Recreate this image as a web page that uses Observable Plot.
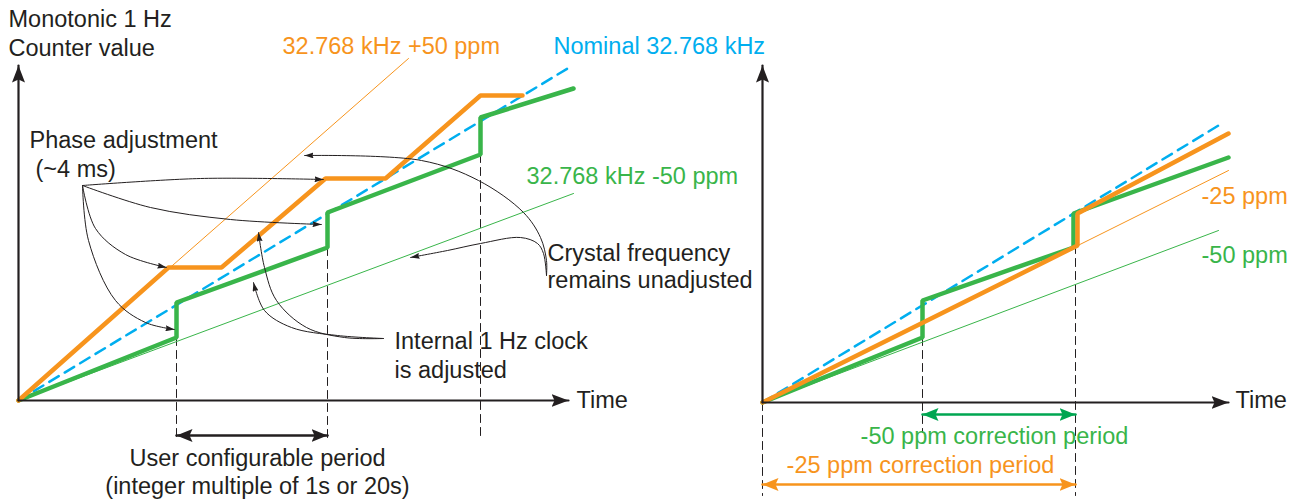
<!DOCTYPE html>
<html><head><meta charset="utf-8">
<script src="https://cdn.jsdelivr.net/npm/d3@7"></script>
<script src="https://cdn.jsdelivr.net/npm/@observablehq/plot@0.6"></script>
<style>html,body{margin:0;padding:0;background:#fff;overflow:hidden}</style>
</head><body><div id="chart"></div>
<script>
// ---------------- data (panel-local units: t = time, c = counter value) ----------------
// Left panel: +50 ppm / -50 ppm crystals, phase-adjusted internal clock
const leftAxisY = [[0, 0], [0, 335]];
const leftAxisX = [[0, 0], [550, 0]];
const leftNominal = [[0, 0], [554, 335]];
const leftPlus50 = [[0, 0], [390, 342]];
const leftMinus50 = [[0, 0], [555, 207]];
const leftPlus50Adjusted = [[0, 0], [150, 133], [203, 133], [307, 222], [367, 222], [462, 305], [504, 305]];
const leftMinus50Adjusted = [[0, 0], [158, 63], [158, 98], [309, 153], [309, 188], [462, 246], [462, 283], [555, 312]];
const leftAdjustTimes = [158, 309, 462];
const leftAdjustTops = [63, 153, 246];
const leftGuideBottom = -40;
const leftPeriod = [[158, -35], [309, -35]];

// annotation leader curves (left panel)
const phaseArrows = [
  [[64, 215], [182, 222], [305, 221]],
  [[64, 215], [132, 193], [212, 181], [303, 176]],
  [[64, 215], [77, 172], [107, 146], [148, 133]],
  [[64, 215], [70, 160], [97, 100], [127, 78], [156, 71]]
];
const internalArrows = [
  [[365, 62], [326, 63], [288, 73], [258, 100], [246, 133], [240, 168]],
  [[365, 62], [319, 65], [273, 73], [246, 90], [235, 118]]
];
const crystalArrows = [
  [[528, 125], [528, 140], [522, 163], [505, 188], [460, 220], [403, 240], [286, 245]],
  [[528, 125], [525, 147], [519, 157], [502, 163], [462, 157], [429, 150], [392, 143]]
];

// Right panel: -25 ppm / -50 ppm corrections
const rightAxisY = [[0, 0], [0, 337]];
const rightAxisX = [[0, 0], [466, 0]];
const rightNominal = [[0, 0], [456, 277]];
const rightMinus25 = [[0, 0], [466, 232]];
const rightMinus50 = [[0, 0], [456, 172]];
const rightMinus25Adjusted = [[0, 0], [315, 157], [315, 189], [466, 269]];
const rightMinus50Adjusted = [[0, 0], [160, 65], [160, 102], [311, 155], [311, 189], [466, 245]];
const rightGuides = [[0, 0, -93], [160, 65, -30], [313, 157, -93]];
const rightPeriod50 = [[160, -12], [313, -12]];
const rightPeriod25 = [[0, -82], [313, -82]];

// texts
const leftTextsStart = [
  {t: -10, c: 374, text: "Monotonic 1 Hz", color: "ink"},
  {t: -10, c: 345, text: "Counter value", color: "ink"},
  {t: 264, c: 347, text: "32.768 kHz +50 ppm", color: "orange"},
  {t: 535, c: 347, text: "Nominal 32.768 kHz", color: "blue"},
  {t: 11, c: 253, text: "Phase adjustment", color: "ink"},
  {t: 17, c: 224, text: "(~4 ms)", color: "ink"},
  {t: 508, c: 217, text: "32.768 kHz -50 ppm", color: "green"},
  {t: 529, c: 140, text: "Crystal frequency", color: "ink"},
  {t: 529, c: 113, text: "remains unadjusted", color: "ink"},
  {t: 376, c: 52, text: "Internal 1 Hz clock", color: "ink"},
  {t: 376, c: 23, text: "is adjusted", color: "ink"},
  {t: 558, c: -7, text: "Time", color: "ink"}
];
const leftTextsMiddle = [
  {t: 239, c: -65, text: "User configurable period", color: "ink"},
  {t: 239, c: -93, text: "(integer multiple of 1s or 20s)", color: "ink"}
];
const rightTextsStart = [
  {t: 473, c: -5, text: "Time", color: "ink"},
  {t: 439, c: 199, text: "-25 ppm", color: "orange"},
  {t: 439, c: 140, text: "-50 ppm", color: "green"}
];
const rightTextsMiddle = [
  {t: 232, c: -41, text: "-50 ppm correction period", color: "green"},
  {t: 158, c: -70, text: "-25 ppm correction period", color: "orange"}
];

// ---------------- layout & style ----------------
const origins = {L: [18, 400], R: [762, 402]};
const colors = {ink: "#231F20", orange: "#F7941D", green: "#39B54A", blue: "#00AEEF", arrowGreen: "#00A651"};

const pts = (p, arr, id) => arr.map(([t, c]) => ({p, t, c, id}));
const multi = (p, arrs, prefix) => arrs.flatMap((a, i) => pts(p, a, prefix + i));
const X = d => origins[d.p][0] + d.t;
const Y = d => origins[d.p][1] - d.c;
const withP = (p, arr) => arr.map(d => ({...d, p}));

function head(len, wid, notch = 0) {
  return (color) => {
    const m = d3.create("svg:marker")
      .attr("viewBox", `${-len} ${-wid / 2} ${len} ${wid}`)
      .attr("markerWidth", len).attr("markerHeight", wid)
      .attr("markerUnits", "userSpaceOnUse")
      .attr("refX", 0).attr("refY", 0)
      .attr("orient", "auto-start-reverse")
      .attr("fill", color).attr("stroke", "none");
    m.append("path").attr("d", `M${-len},${-wid / 2}L0,0L${-len},${wid / 2}L${-len + notch},0Z`);
    return m.node();
  };
}
const axisHead = head(17, 13, 3);
const periodHead = head(16, 13, 3);
const smallHead = head(9, 6, 1);

const guideLeft = leftAdjustTimes.flatMap((t, i) => [
  {p: "L", t, c: leftAdjustTops[i], id: "g" + i},
  {p: "L", t, c: leftGuideBottom, id: "g" + i}
]);
const guideRight = rightGuides.flatMap(([t, top, bot], i) => [
  {p: "R", t, c: top, id: "r" + i},
  {p: "R", t, c: bot, id: "r" + i}
]);

const textMark = (data, anchor) => Plot.text(data, {
  x: X, y: Y, text: "text", fill: d => colors[d.color],
  textAnchor: anchor, lineAnchor: "bottom", fontSize: 23.5
});

const chart = Plot.plot({
  width: 1300, height: 502, margin: 0,
  x: {domain: [0, 1300], range: [0, 1300], axis: null},
  y: {domain: [0, 502], range: [0, 502], axis: null},
  style: {fontFamily: "'Liberation Sans', Arial, sans-serif", background: "#fff", overflow: "visible"},
  marks: [
    // vertical guides
    Plot.line([...guideLeft, ...guideRight], {x: X, y: Y, z: "id", stroke: colors.ink, strokeWidth: 1, strokeDasharray: "8,5"}),
    // unadjusted crystal lines (thin)
    Plot.line(pts("L", leftPlus50), {x: X, y: Y, stroke: colors.orange, strokeWidth: 1}),
    Plot.line(pts("L", leftMinus50), {x: X, y: Y, stroke: colors.green, strokeWidth: 1}),
    Plot.line(pts("R", rightMinus25), {x: X, y: Y, stroke: colors.orange, strokeWidth: 1}),
    Plot.line(pts("R", rightMinus50), {x: X, y: Y, stroke: colors.green, strokeWidth: 1}),
    // nominal
    Plot.line(pts("L", leftNominal), {x: X, y: Y, stroke: colors.blue, strokeWidth: 2.5, strokeDasharray: "11,7"}),
    Plot.line(pts("R", rightNominal), {x: X, y: Y, stroke: colors.blue, strokeWidth: 2.5, strokeDasharray: "11,7"}),
    // adjusted internal clocks (thick)
    Plot.line(pts("L", leftMinus50Adjusted), {x: X, y: Y, stroke: colors.green, strokeWidth: 4.5, strokeLinejoin: "miter"}),
    Plot.line(pts("R", rightMinus50Adjusted), {x: X, y: Y, stroke: colors.green, strokeWidth: 4.5, strokeLinejoin: "miter"}),
    Plot.line(pts("L", leftPlus50Adjusted), {x: X, y: Y, stroke: colors.orange, strokeWidth: 4.5, strokeLinejoin: "miter"}),
    Plot.line(pts("R", rightMinus25Adjusted), {x: X, y: Y, stroke: colors.orange, strokeWidth: 4.5, strokeLinejoin: "miter"}),
    // axes
    Plot.line(pts("L", leftAxisY), {x: X, y: Y, stroke: colors.ink, strokeWidth: 2.2, markerEnd: axisHead}),
    Plot.line(pts("L", leftAxisX), {x: X, y: Y, stroke: colors.ink, strokeWidth: 2.2, markerEnd: axisHead}),
    Plot.line(pts("R", rightAxisY), {x: X, y: Y, stroke: colors.ink, strokeWidth: 2.2, markerEnd: axisHead}),
    Plot.line(pts("R", rightAxisX), {x: X, y: Y, stroke: colors.ink, strokeWidth: 2.2, markerEnd: axisHead}),
    // period arrows
    Plot.line(pts("L", leftPeriod), {x: X, y: Y, stroke: colors.ink, strokeWidth: 2.5, markerStart: periodHead, markerEnd: periodHead}),
    Plot.line(pts("R", rightPeriod50), {x: X, y: Y, stroke: colors.arrowGreen, strokeWidth: 2.5, markerStart: periodHead, markerEnd: periodHead}),
    Plot.line(pts("R", rightPeriod25), {x: X, y: Y, stroke: colors.orange, strokeWidth: 2.5, markerStart: periodHead, markerEnd: periodHead}),
    // annotation leaders
    Plot.line([...multi("L", phaseArrows, "ph"), ...multi("L", internalArrows, "in"), ...multi("L", crystalArrows, "cr")],
      {x: X, y: Y, z: "id", curve: "catmull-rom", stroke: colors.ink, strokeWidth: 1, markerEnd: smallHead}),
    // texts
    textMark(withP("L", leftTextsStart), "start"),
    textMark(withP("L", leftTextsMiddle), "middle"),
    textMark(withP("R", rightTextsStart), "start"),
    textMark(withP("R", rightTextsMiddle), "middle")
  ]
});
document.getElementById("chart").append(chart);
</script>
</body></html>
